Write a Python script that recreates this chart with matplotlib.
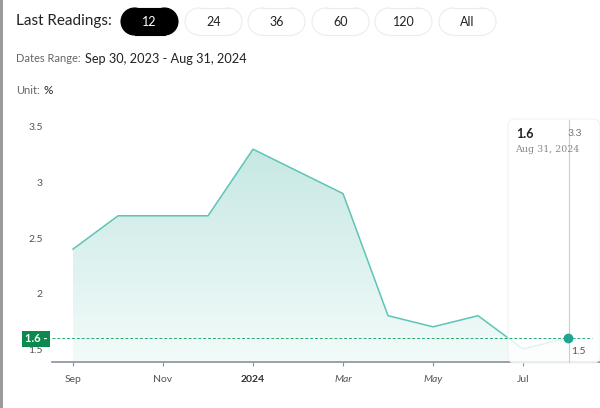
import matplotlib
matplotlib.use("Agg")
import matplotlib.pyplot as plt
from matplotlib.patches import FancyBboxPatch, Rectangle, Circle
import numpy as np

plt.rcParams['font.family'] = ['Lato', 'DejaVu Sans']

# data
months = ['Sep', 'Oct', 'Nov', 'Dec', 'Jan', 'Feb', 'Mar', 'Apr', 'May', 'Jun', 'Jul', 'Aug']
values = [2.4, 2.7, 2.7, 2.7, 3.3, 3.1, 2.9, 1.8, 1.7, 1.8, 1.5, 1.6]
tick_pos = [0, 2, 4, 6, 8, 10]
tick_labels = ['Sep', 'Nov', '2024', 'Mar', 'May', 'Jul']
yticks = [1.5, 2, 2.5, 3, 3.5]
buttons = ['12', '24', '36', '60', '120', 'All']
last_value = values[-1]
last_date = 'Aug 31, 2024'

W, H = 600, 408
LINE = '#5ec4b6'
GREEN = '#0b8a4f'


def fx(x):
    return x / W


def fy(y):
    return 1 - y / H


def pill(axc, x0, y0, w, h, fc, ec):
    # stadium shape: a rectangle with two half-disc ends
    r = h / 2
    axc.add_patch(Circle((x0 + r, y0 + r), r, facecolor=fc, edgecolor=ec, lw=0.8))
    axc.add_patch(Circle((x0 + w - r, y0 + r), r, facecolor=fc, edgecolor=ec, lw=0.8))
    axc.add_patch(Rectangle((x0 + r, y0), w - 2 * r, h, facecolor=fc, edgecolor='none'))
    axc.plot([x0 + r, x0 + w - r], [y0, y0], color=ec, lw=0.8)
    axc.plot([x0 + r, x0 + w - r], [y0 + h, y0 + h], color=ec, lw=0.8)


fig = plt.figure(figsize=(6, 4.08), dpi=100)
fig.patch.set_facecolor('white')

# pixel canvas for the header widgets (y measured from the bottom)
cv = fig.add_axes([0, 0, 1, 1], zorder=-1)
cv.set_xlim(0, W)
cv.set_ylim(0, H)
cv.axis('off')

cv.add_patch(Rectangle((0, 0), 2.5, H, color='#9a9a9a', lw=0))

cv.text(16, H - 21, 'Last Readings:', fontsize=11, color='#222222', va='center')
btn_x = [121, 185, 248, 312, 375, 439]
for i, (lab, bx) in enumerate(zip(buttons, btn_x)):
    sel = i == 0
    pill(cv, bx, H - 35, 57, 27, 'black' if sel else 'white', 'black' if sel else '#ececec')
    cv.text(bx + 28.5, H - 21.5, lab, fontsize=9, ha='center', va='center',
            color='white' if sel else '#222222')

cv.text(16, H - 59, 'Dates Range:', fontsize=8, color='#666666', va='center')
cv.text(85, H - 59, 'Sep 30, 2023 - Aug 31, 2024', fontsize=9.2, color='#222222', va='center')
cv.text(16, H - 90, 'Unit:', fontsize=8, color='#666666', va='center')
cv.text(43, H - 90, '%', fontsize=8.5, color='#222222', va='center')

# chart area
ax = fig.add_axes([fx(52), fy(362), fx(548), (362 - 115) / H])
x = np.arange(len(values))
ax.set_xlim(-0.467, 11.71)
ax.set_ylim(1.383, 3.608)

poly = ax.fill_between(x, values, ax.get_ylim()[0], color='none', lw=0)
grad = np.linspace(0, 1, 256).reshape(-1, 1)
top = np.array([0.78, 0.91, 0.895])
bot = np.array([0.95, 0.985, 0.98])
img = (top * (1 - grad) + bot * grad).reshape(256, 1, 3)
im = ax.imshow(img, aspect='auto', extent=[x[0], x[-1], ax.get_ylim()[0], max(values)],
               origin='upper', zorder=1)
im.set_clip_path(poly.get_paths()[0], transform=ax.transData)
ax.plot(x, values, color=LINE, lw=1.1, zorder=2)

ax.set_xticks(tick_pos)
ax.set_xticklabels(tick_labels)
for lab in ax.get_xticklabels():
    lab.set_color('#555555')
    lab.set_fontsize(7.5)
    if lab.get_text() == '2024':
        lab.set_fontweight('bold')
        lab.set_color('#333333')
    if lab.get_text() in ('Mar', 'May'):
        lab.set_style('italic')
ax.tick_params(axis='x', length=3, color='#8a8fa0', pad=6)
ax.set_yticks(yticks)
ax.set_yticklabels([f'{v:g}' for v in yticks])
ax.tick_params(axis='y', length=0, pad=6.5, labelsize=7.5, labelcolor='#555555')
for s in ['top', 'right', 'left']:
    ax.spines[s].set_visible(False)
ax.spines['bottom'].set_color('#8a8fa0')
ax.spines['bottom'].set_linewidth(1.2)

# tooltip (drawn in the chart axes so the marker can sit above it)
tip = FancyBboxPatch((fx(508), fy(363)), fx(92), (363 - 119) / H,
                     boxstyle='round,pad=0,rounding_size=0.012',
                     transform=fig.transFigure, facecolor='white', alpha=0.82,
                     edgecolor='#eeeeee', lw=0.8, zorder=4, clip_on=False,
                     mutation_aspect=W / H)
ax.add_patch(tip)
ax.plot([fx(569), fx(569)], [fy(120), fy(362)], transform=fig.transFigure,
        color='#cccccc', lw=0.8, zorder=5, clip_on=False)
ax.text(fx(516), fy(134), f'{last_value:g}', fontsize=9, fontweight='bold', color='#222222',
        va='center', transform=fig.transFigure, zorder=6)
ax.text(fx(515), fy(150), last_date, fontsize=6.8, color='#888888', va='center',
        family='DejaVu Serif', transform=fig.transFigure, zorder=6)
ax.text(fx(568), fy(134), f'{max(values):g}', fontsize=7.5, color='#777777', va='center',
        transform=fig.transFigure, zorder=6)
ax.text(fx(571), fy(352), f'{min(values):g}', fontsize=7.5, color='#555555', va='center',
        transform=fig.transFigure, zorder=6)

# current value guide
ax.axhline(last_value, color='#2aa873', lw=0.7, ls=(0, (3, 2)), xmax=0.985, zorder=7)
ax.plot([x[-1]], [last_value], 'o', color='#1fa58f', ms=6, zorder=10, clip_on=False)

# left value badge
fig.text(fx(36), fy(339), f'{last_value:g} -', fontsize=8, color='white', fontweight='bold',
         ha='center', va='center', zorder=7,
         bbox=dict(boxstyle='square,pad=0.25', facecolor=GREEN, edgecolor='none'))

fig.savefig('out.png', dpi=100, facecolor='white')
